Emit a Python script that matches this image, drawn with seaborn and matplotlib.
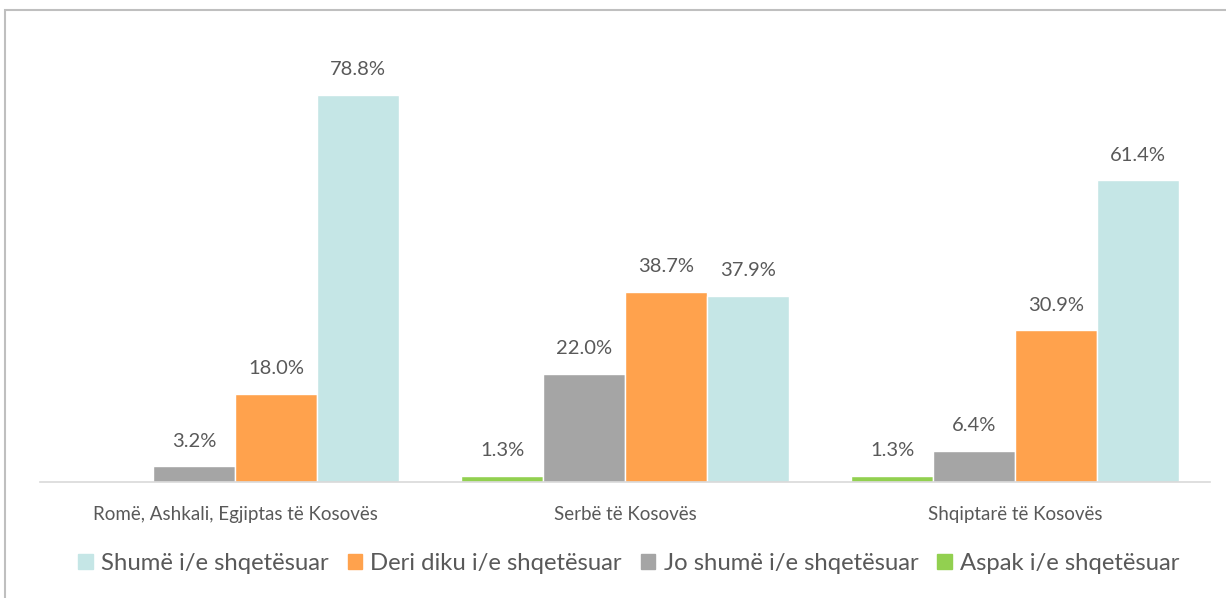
import numpy as np
import pandas as pd
import matplotlib.pyplot as plt
import matplotlib.patches as mpatches
import seaborn as sns

GROUPS = ["Romë, Ashkali, Egjiptas të Kosovës", "Serbë të Kosovës", "Shqiptarë të Kosovës"]
SERIES = ["Aspak i/e shqetësuar", "Jo shumë i/e shqetësuar", "Deri diku i/e shqetësuar", "Shumë i/e shqetësuar"]
ASPAK = [0.0, 1.3, 1.3]
JO_SHUME = [3.2, 22.0, 6.4]
DERI_DIKU = [18.0, 38.7, 30.9]
SHUME = [78.8, 37.9, 61.4]
COLORS = ["#92D050", "#A5A5A5", "#FFA24D", "#C5E6E6"]

sns.set_theme(style="white")
plt.rcParams["font.family"] = ["Lato", "DejaVu Sans"]

rows = []
for s, vals in zip(SERIES, [ASPAK, JO_SHUME, DERI_DIKU, SHUME]):
    for g, v in zip(GROUPS, vals):
        rows.append({"group": g, "series": s, "value": v})
df = pd.DataFrame(rows)

fig = plt.figure(figsize=(12.26, 5.98), dpi=100)
ax = fig.add_axes([0.0326, 0.194, 0.9544, 0.739])

sns.barplot(data=df, x="group", y="value", hue="series", order=GROUPS, hue_order=SERIES,
            palette=COLORS, saturation=1, width=0.84, edgecolor="white", linewidth=1,
            ax=ax, legend=False)

for cont in ax.containers:
    labels = [f"{b.get_height():.1f}%" if b.get_height() > 0 else "" for b in cont]
    ax.bar_label(cont, labels=labels, padding=12, fontsize=14.5, color="#595959")

ax.set_xlim(-0.5, 2.5)
ax.set_ylim(0, 90)
ax.set_xlabel("")
ax.set_ylabel("")
ax.set_yticks([])
ax.tick_params(axis="x", length=0, pad=17, labelsize=13.5, labelcolor="#595959")
for side in ["top", "left", "right"]:
    ax.spines[side].set_visible(False)
ax.spines["bottom"].set_color("#D9D9D9")
ax.spines["bottom"].set_linewidth(1.2)

handles = [mpatches.Patch(color=c, label=s) for s, c in zip(SERIES, COLORS)][::-1]
fig.legend(handles=handles, loc="center", bbox_to_anchor=(0.513, 0.058), ncol=4, frameon=False,
           fontsize=17.2, labelcolor="#595959", handlelength=0.6, handleheight=0.6,
           handletextpad=0.35, columnspacing=0.8)

# outer chart frame (only top and left edges fall inside the image)
fig.patches.append(mpatches.Rectangle((0.004, -0.1), 1.2, 1.083, transform=fig.transFigure,
                                      fill=False, edgecolor="#BFBFBF", linewidth=1.5))

fig.savefig("out.png", dpi=100)
